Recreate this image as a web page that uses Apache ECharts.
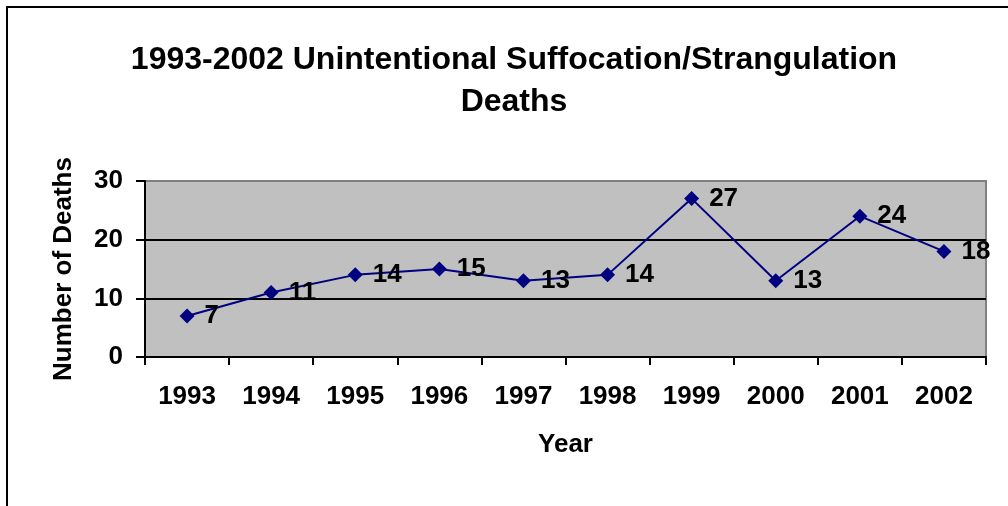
<!DOCTYPE html>
<html><head><meta charset="utf-8">
<script src="https://cdn.jsdelivr.net/npm/echarts@6/dist/echarts.min.js"></script>
<style>html,body{margin:0;padding:0;background:#fff}#c{width:1008px;height:506px}</style>
</head><body><div id="c"></div>
<script>
const years = ['1993','1994','1995','1996','1997','1998','1999','2000','2001','2002'];
const deaths = [7, 11, 14, 15, 13, 14, 27, 13, 24, 18];
const yTicks = {min: 0, max: 30, interval: 10};
const titleText = '1993-2002 Unintentional Suffocation/Strangulation\nDeaths';
const xName = 'Year';
const yName = 'Number of Deaths';

const FONT = '"Liberation Sans", Arial, sans-serif';
const chart = echarts.init(document.getElementById('c'), null, {renderer: 'canvas'});
chart.setOption({
  animation: false,
  backgroundColor: '#ffffff',
  graphic: [{
    type: 'rect', shape: {x: 7, y: 7, width: 1040, height: 540},
    style: {fill: 'none', stroke: '#000', lineWidth: 2}, z: 100
  }],
  title: {
    text: titleText, left: 509, top: 34, textAlign: 'center',
    textStyle: {fontFamily: FONT, fontWeight: 'bold', fontSize: 32, lineHeight: 42, color: '#000'}
  },
  grid: {
    left: 145, top: 181, right: 22, bottom: 149, show: true,
    backgroundColor: '#C0C0C0', borderColor: '#808080', borderWidth: 2
  },
  xAxis: {
    type: 'category', data: years, boundaryGap: true,
    name: xName, nameLocation: 'middle', nameGap: 75,
    nameTextStyle: {fontFamily: FONT, fontWeight: 'bold', fontSize: 26, color: '#000'},
    axisLine: {lineStyle: {color: '#000', width: 2}},
    axisTick: {show: true, inside: false, length: 8, interval: 0, lineStyle: {color: '#000', width: 2}},
    axisLabel: {fontFamily: FONT, fontWeight: 'bold', fontSize: 26, color: '#000', margin: 27, interval: 0},
    splitLine: {show: false}
  },
  yAxis: {
    type: 'value', min: yTicks.min, max: yTicks.max, interval: yTicks.interval,
    name: yName, nameLocation: 'middle', nameGap: 68, nameRotate: 90,
    nameTextStyle: {fontFamily: FONT, fontWeight: 'bold', fontSize: 26, color: '#000'},
    axisLine: {show: true, lineStyle: {color: '#000', width: 2}},
    axisTick: {show: true, inside: false, length: 9, lineStyle: {color: '#000', width: 2}},
    axisLabel: {fontFamily: FONT, fontWeight: 'bold', fontSize: 26, color: '#000', margin: 22},
    splitLine: {show: true, lineStyle: {color: ['#000000', '#000000', '#000000', '#808080'], width: 2}}
  },
  series: [{
    type: 'line', data: deaths,
    symbol: 'diamond', symbolSize: 15,
    lineStyle: {color: '#000080', width: 2},
    itemStyle: {color: '#000080'},
    label: {
      show: true, position: 'right', distance: 10,
      fontFamily: FONT, fontWeight: 'bold', fontSize: 26, color: '#000'
    },
    z: 5
  }]
});
</script></body></html>
